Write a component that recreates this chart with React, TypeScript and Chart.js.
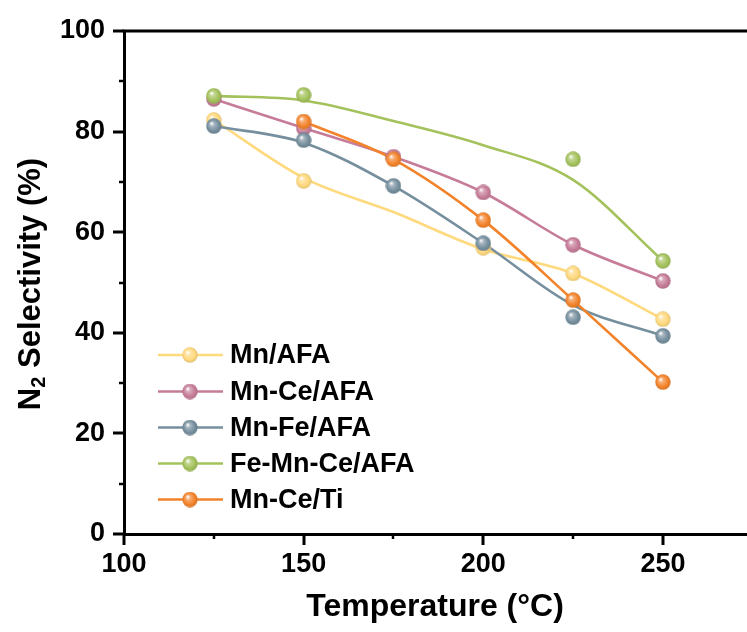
import React, { useEffect, useRef } from "react";
import { Chart, registerables } from "chart.js";

Chart.register(...registerables);

// ---- Data ----
const temperatures = [125, 150, 175, 200, 225, 250];
const seriesNames = ["Mn/AFA", "Mn-Ce/AFA", "Mn-Fe/AFA", "Fe-Mn-Ce/AFA", "Mn-Ce/Ti"];
const seriesColors = ["#FFD97E", "#C67C98", "#768F9E", "#A4C25C", "#F3832A"];

// measured points (null = no marker)
const mnAFA = [82.3, 70.2, null, 56.9, 51.8, 42.7];
const mnCeAFA = [86.5, 80.7, 75.0, 67.9, 57.5, 50.3];
const mnFeAFA = [81.1, 78.3, 69.2, 57.8, 43.1, 39.4];
const feMnCeAFA = [87.1, 87.3, null, null, 74.5, 54.3];
const mnCeTi = [null, 82.0, 74.5, 62.4, 46.5, 30.2];

// fitted curves as drawn in the reference
const mnAFAFit = [82.3, 70.8, 64.0, 56.6, 51.8, 42.7];
const mnCeAFAFit = [86.5, 80.7, 75.0, 67.9, 57.5, 50.3];
const mnFeAFAFit = [81.1, 77.8, 69.2, 57.8, 45.5, 39.4];
const feMnCeAFAFit = [87.1, 86.2, 82.1, 77.3, 70.4, 54.3];
const mnCeTiFit = [null, 82.0, 74.5, 62.4, 46.5, 30.2];

const xTickLabels = [100, 150, 200, 250];
const yTickLabels = [0, 20, 40, 60, 80, 100];

const pointSets = [mnAFA, mnCeAFA, mnFeAFA, feMnCeAFA, mnCeTi];
const fitSets = [mnAFAFit, mnCeAFAFit, mnFeAFAFit, feMnCeAFAFit, mnCeTiFit];

const FONT = "'Liberation Sans', Arial, sans-serif";

function toXY(arr: (number | null)[]) {
  const out: { x: number; y: number }[] = [];
  arr.forEach((v, i) => {
    if (v !== null) out.push({ x: temperatures[i], y: v });
  });
  return out;
}

function shade(hex: string, f: number) {
  const n = parseInt(hex.slice(1), 16);
  let r = (n >> 16) & 255, g = (n >> 8) & 255, b = n & 255;
  if (f >= 0) {
    r = r + (255 - r) * f; g = g + (255 - g) * f; b = b + (255 - b) * f;
  } else {
    r = r * (1 + f); g = g * (1 + f); b = b * (1 + f);
  }
  return `rgb(${Math.round(r)},${Math.round(g)},${Math.round(b)})`;
}

function sphere(color: string, size = 16) {
  const c = document.createElement("canvas");
  c.width = size; c.height = size;
  const ctx = c.getContext("2d")!;
  const r = size / 2;
  const g = ctx.createRadialGradient(r - r * 0.3, r - r * 0.35, r * 0.05, r, r, r);
  g.addColorStop(0, "#ffffff");
  g.addColorStop(0.25, shade(color, 0.35));
  g.addColorStop(0.7, color);
  g.addColorStop(1, shade(color, -0.12));
  ctx.fillStyle = g;
  ctx.beginPath();
  ctx.arc(r, r, r - 0.3, 0, Math.PI * 2);
  ctx.fill();
  return c;
}

function zeroPad(s: any) {
  s.paddingLeft = 0;
  s.paddingRight = 0;
  s.paddingTop = 0;
  s.paddingBottom = 0;
}

export default function App() {
  const ref = useRef<HTMLCanvasElement | null>(null);

  useEffect(() => {
    document.body.style.margin = "0";
    const canvas = ref.current!;
    const spheres = seriesColors.map((c) => sphere(c));

    const pointDatasets = pointSets.map((arr, i) => ({
      label: seriesNames[i] + " pts",
      data: toXY(arr),
      showLine: false,
      pointStyle: spheres[i] as any,
      pointRadius: 8,
      borderColor: seriesColors[i],
      backgroundColor: seriesColors[i],
      clip: false as any,
    }));
    const lineDatasets = fitSets.map((arr, i) => ({
      label: seriesNames[i],
      data: toXY(arr),
      borderColor: seriesColors[i],
      borderWidth: 2.6,
      pointRadius: 0,
      cubicInterpolationMode: "monotone" as const,
      fill: false,
    }));
    // first dataset drawn on top: orange, green, blue, pink, yellow
    const drawOrder = [4, 3, 2, 1, 0];
    const datasets = [
      ...drawOrder.map((i) => pointDatasets[i]),
      ...drawOrder.map((i) => lineDatasets[i]),
    ];

    const decor = {
      id: "decor",
      afterDraw(chart: any) {
        const ctx = chart.ctx as CanvasRenderingContext2D;
        const area = chart.chartArea;
        const xs = chart.scales.x;
        const ys = chart.scales.y;
        ctx.save();
        ctx.strokeStyle = "#000";
        ctx.lineCap = "butt";
        // top frame line
        ctx.lineWidth = 3;
        ctx.beginPath();
        ctx.moveTo(area.left - 1.5, area.top);
        ctx.lineTo(chart.width, area.top);
        ctx.stroke();
        // x ticks
        for (let v = 100; v <= 250; v += 25) {
          const major = v % 50 === 0;
          const px = Math.round(xs.getPixelForValue(v));
          ctx.lineWidth = major ? 3 : 2.5;
          ctx.beginPath();
          ctx.moveTo(px, area.bottom);
          ctx.lineTo(px, area.bottom + (major ? 11 : 5));
          ctx.stroke();
        }
        // y ticks
        for (let v = 0; v <= 100; v += 10) {
          const major = v % 20 === 0;
          const py = Math.round(ys.getPixelForValue(v));
          ctx.lineWidth = major ? 3 : 2.5;
          ctx.beginPath();
          ctx.moveTo(area.left, py);
          ctx.lineTo(area.left - (major ? 11 : 5), py);
          ctx.stroke();
        }
        // legend
        const rowY = [355, 391.5, 427.5, 463.5, 499.5];
        ctx.font = `bold 27px ${FONT}`;
        ctx.textBaseline = "middle";
        ctx.textAlign = "left";
        seriesNames.forEach((name, i) => {
          const y = rowY[i];
          ctx.strokeStyle = seriesColors[i];
          ctx.lineWidth = 2.6;
          ctx.beginPath();
          ctx.moveTo(158, y);
          ctx.lineTo(223, y);
          ctx.stroke();
          ctx.drawImage(spheres[i], 190 - 8, y - 8, 16, 16);
          ctx.fillStyle = "#000";
          ctx.fillText(name, 230, y + 1);
        });
        // x title
        ctx.fillStyle = "#000";
        ctx.font = `bold 32px ${FONT}`;
        ctx.textAlign = "center";
        ctx.textBaseline = "middle";
        ctx.fillText("Temperature (\u00B0C)", 435, 607);
        // y title (rotated, N with subscript 2)
        ctx.translate(31, 284);
        ctx.rotate(-Math.PI / 2);
        const big = `bold 31px ${FONT}`;
        const small = `bold 20px ${FONT}`;
        ctx.font = big;
        const wN = ctx.measureText("N").width;
        const rest = " Selectivity (%)";
        const wRest = ctx.measureText(rest).width;
        ctx.font = small;
        const w2 = ctx.measureText("2").width;
        const total = wN + w2 + wRest;
        let x0 = -total / 2;
        ctx.textAlign = "left";
        ctx.textBaseline = "middle";
        ctx.font = big;
        ctx.fillText("N", x0, 0);
        x0 += wN;
        ctx.font = small;
        ctx.fillText("2", x0, 8);
        x0 += w2;
        ctx.font = big;
        ctx.fillText(rest, x0, 0);
        ctx.restore();
      },
    };

    const chart = new Chart(canvas, {
      type: "line",
      data: { datasets: datasets as any },
      options: {
        animation: false,
        responsive: false,
        layout: { autoPadding: false, padding: { top: 31, right: 0, left: 0, bottom: 0 } },
        plugins: { legend: { display: false }, tooltip: { enabled: false } },
        scales: {
          x: {
            type: "linear",
            min: 100,
            max: 273.4,
            grid: { display: false, drawTicks: false },
            border: { display: true, color: "#000", width: 3 },
            afterBuildTicks: (s: any) => {
              s.ticks = xTickLabels.map((v) => ({ value: v }));
            },
            afterFit: (s: any) => {
              s.height = 98;
              zeroPad(s);
            },
            ticks: {
              color: "#000",
              padding: 14,
              maxRotation: 0,
              font: { family: FONT, size: 27, weight: "bold" },
            },
          },
          y: {
            type: "linear",
            min: 0,
            max: 100,
            grid: { display: false, drawTicks: false },
            border: { display: true, color: "#000", width: 3 },
            afterBuildTicks: (s: any) => {
              s.ticks = yTickLabels.map((v) => ({ value: v }));
            },
            afterFit: (s: any) => {
              s.width = 124;
              zeroPad(s);
            },
            ticks: {
              color: "#000",
              padding: 19,
              font: { family: FONT, size: 27, weight: "bold" },
            },
          },
        },
      },
      plugins: [decor],
    });
    return () => chart.destroy();
  }, []);

  return (
    <div style={{ width: 747, height: 632, background: "#fff" }}>
      <canvas ref={ref} width={747} height={632} style={{ display: "block" }} />
    </div>
  );
}
